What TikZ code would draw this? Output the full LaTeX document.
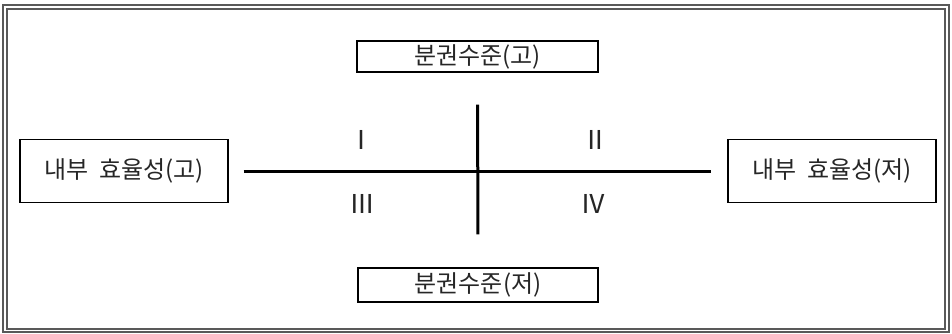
\documentclass[tikz,border=0pt]{standalone}
\usepackage{fontspec}
\newfontfamily\kr{Noto Sans CJK KR}
\begin{document}
\begin{tikzpicture}[x=1pt, y=-1pt, font=\kr\fontsize{24}{28}\selectfont,
  box/.style={draw, line width=1.2pt, inner sep=0pt, text=black!85},
  quad/.style={text=black!85, font=\kr\fontsize{26}{30}\selectfont}]
\useasboundingbox (0,0) rectangle (952,333);
\draw[line width=1.4pt, black!65] (3,5) rectangle (949,332);
\draw[line width=1.4pt, black!65] (7,9) rectangle (945,329);
\node[box, minimum width=241pt, minimum height=31pt] (top) at (477.5,56.5) {분권수준(고)};
\node[box, minimum width=240pt, minimum height=34pt] (bot) at (478,285) {분권수준(저)};
\node[box, minimum width=208pt, minimum height=63pt] (left) at (124,171) {내부\ \ 효율성(고)};
\node[box, minimum width=208pt, minimum height=63pt] (right) at (832,171) {내부\ \ 효율성(저)};
\draw[line width=3pt, shorten <=15pt, shorten >=16pt] (left) -- (right);
\draw[line width=3pt, shorten <=32pt, shorten >=33pt] (top) -- (bot);
\node[quad] (q1) at (361,140) {Ⅰ};
\node[quad] (q2) at (595,140) {Ⅱ};
\node[quad] (q3) at (362,204) {Ⅲ};
\node[quad] (q4) at (593,204) {Ⅳ};
\end{tikzpicture}
\end{document}
